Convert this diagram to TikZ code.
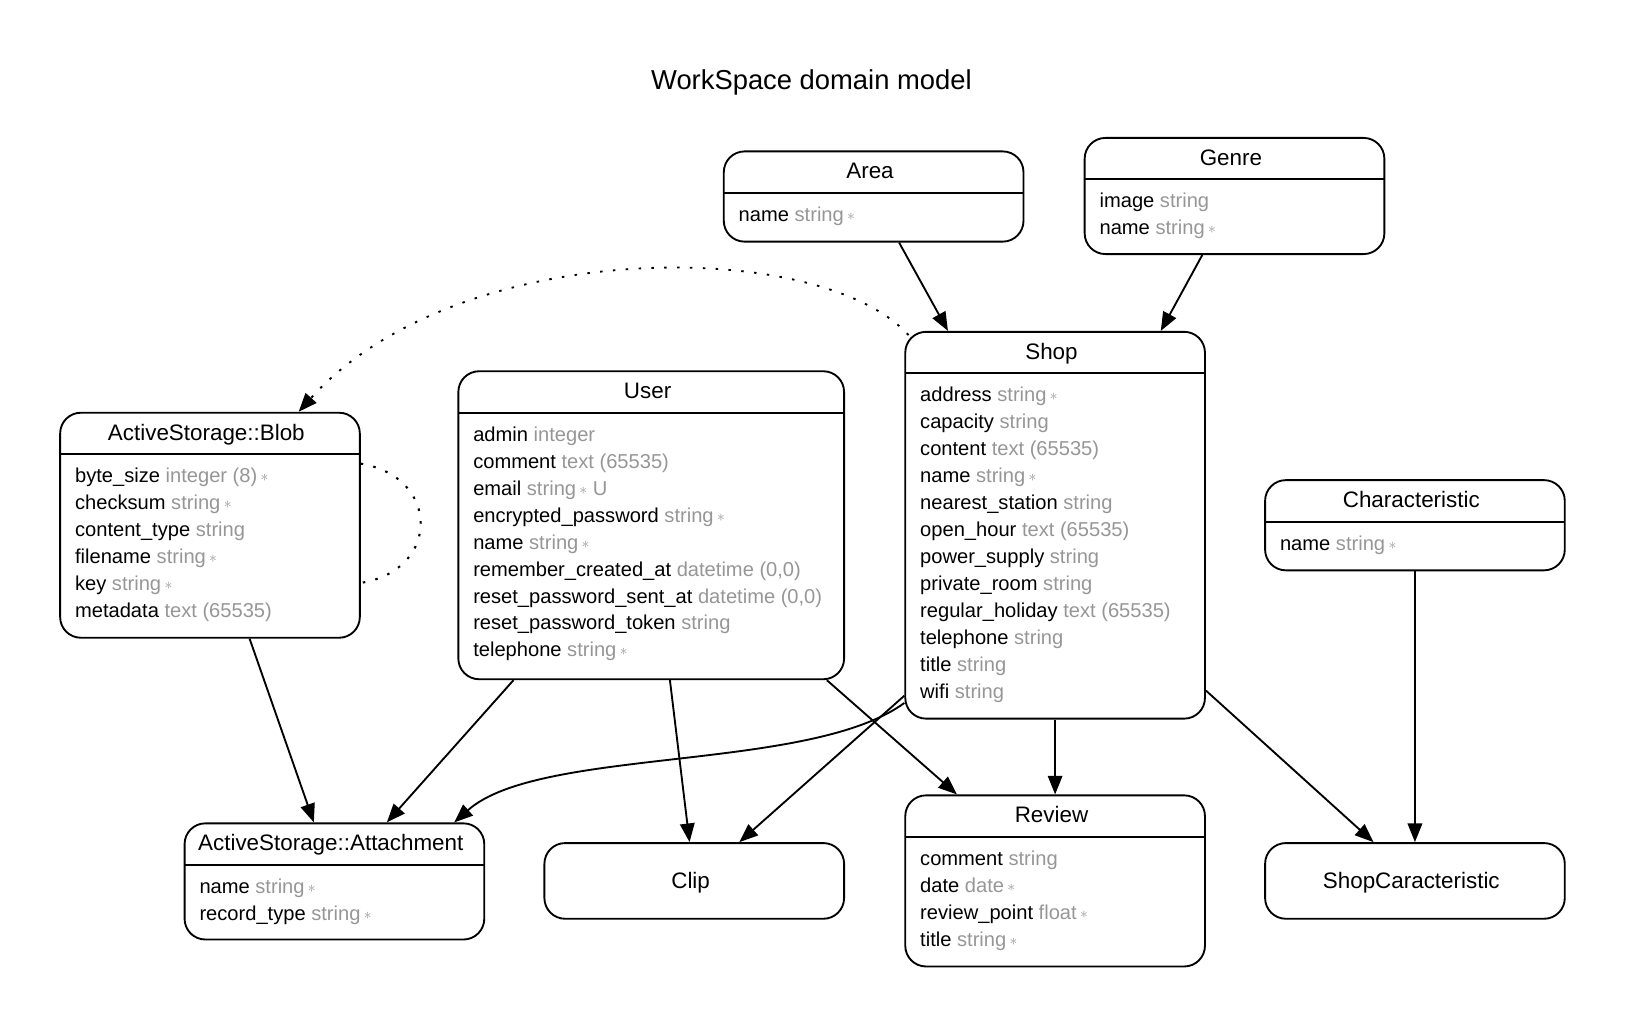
\documentclass[tikz,border=0pt]{standalone}
\usepackage{fontspec}
\setmainfont{Liberation Sans}
\usetikzlibrary{arrows.meta,fit}
\definecolor{typegray}{RGB}{150,150,150}
\newcommand{\req}{\,\raisebox{0.05em}{\scalebox{0.75}{$\ast$}}}
\newcount\attrno
\newcommand{\mkentity}[6]{% name,x1,y1,x2,y2,title
  \node[ebox, fit={(#2,#3) (#4,#5)}] (#1) {};
  \node[etitle] (#1-t) at ({(#2+#4)/2-3.5},{#3+26.5}) {#6};
  \draw[divider] (#2,{#3+40}) -- (#4,{#3+40});
  \gdef\curname{#1}\gdef\curx{#2}\gdef\cury{#3}\global\attrno=0 }
\newcommand{\mkplain}[6]{%
  \node[ebox, fit={(#2,#3) (#4,#5)}] (#1) {};
  \node[etitle] (#1-t) at ({(#2+#4)/2-3.5},{(#3+#5)/2+7.5}) {#6};}
\newcommand{\fld}[2]{\global\advance\attrno by 1
  \node[attr] (\curname-a\the\attrno) at ({\curx+14},{\cury+67.5+(\the\attrno-1)*26}) {#1 {\color{typegray}#2}};}
\begin{document}
\begin{tikzpicture}[x=0.5pt,y=-0.5pt,
  ebox/.style={draw, rounded corners=10pt, inner sep=0pt, line width=0.9pt},
  divider/.style={line width=0.9pt},
  etitle/.style={anchor=base, inner sep=0pt, font=\fontsize{10.8}{13}\selectfont},
  attr/.style={anchor=base west, inner sep=0pt, font=\fontsize{9.7}{13}\selectfont},
  arr/.style={line width=0.9pt, -{Triangle[length=9pt,width=7pt]}},
  dotline/.style={line width=1pt, dash pattern=on 1.2pt off 5pt}]
\useasboundingbox (0,0) rectangle (1569,992.3);
\node[anchor=base, inner sep=0pt, font=\fontsize{13.2}{16}\selectfont] (title) at (782.5,86) {WorkSpace domain model};

\mkentity{area}{698}{146}{987}{233}{Area}
\fld{name}{string\req}

\mkentity{genre}{1046}{133}{1335}{245}{Genre}
\fld{image}{string}
\fld{name}{string\req}

\mkentity{shop}{873}{320}{1162}{693}{Shop}
\fld{address}{string\req}
\fld{capacity}{string}
\fld{content}{text (65535)}
\fld{name}{string\req}
\fld{nearest\_station}{string}
\fld{open\_hour}{text (65535)}
\fld{power\_supply}{string}
\fld{private\_room}{string}
\fld{regular\_holiday}{text (65535)}
\fld{telephone}{string}
\fld{title}{string}
\fld{wifi}{string}

\mkentity{user}{442}{358}{814}{655}{User}
\fld{admin}{integer}
\fld{comment}{text (65535)}
\fld{email}{string\req{} U}
\fld{encrypted\_password}{string\req}
\fld{name}{string\req}
\fld{remember\_created\_at}{datetime (0,0)}
\fld{reset\_password\_sent\_at}{datetime (0,0)}
\fld{reset\_password\_token}{string}
\fld{telephone}{string\req}

\mkentity{blob}{58}{398}{347}{615}{ActiveStorage::Blob}
\fld{byte\_size}{integer (8)\req}
\fld{checksum}{string\req}
\fld{content\_type}{string}
\fld{filename}{string\req}
\fld{key}{string\req}
\fld{metadata}{text (65535)}

\mkentity{char}{1220}{463}{1509}{550}{Characteristic}
\fld{name}{string\req}

\mkentity{attach}{178}{794}{467}{906}{ActiveStorage::Attachment}
\fld{name}{string\req}
\fld{record\_type}{string\req}

\mkplain{clip}{525}{813}{814}{886}{Clip}

\mkentity{review}{873}{767}{1162}{932}{Review}
\fld{comment}{string}
\fld{date}{date\req}
\fld{review\_point}{float\req}
\fld{title}{string\req}

\mkplain{sc}{1220}{813}{1509}{886}{ShopCaracteristic}

% connectors
\draw[arr] (area) -- (shop);
\draw[arr] (genre) -- (shop);
\draw[arr] (user) -- (attach);
\draw[arr] (user) -- (clip);
\draw[arr] (user) -- (review);
\draw[arr] (blob) -- (attach);
\draw[arr] (shop) -- (review);
\draw[arr] (char) -- (sc);
\draw[arr] ([yshift=14pt]shop.south east) -- ([xshift=-20pt]sc.north);
\draw[arr] ([yshift=11.5pt]shop.south west) -- ([xshift=21.75pt]clip.north);
\draw[arr] ([yshift=8pt]shop.south west) .. controls (780,745) and (520,720) .. ([xshift=57.75pt]attach.north);
\draw[dotline,arr] ([xshift=2pt,yshift=-2pt]shop.north west) .. controls (790,228) and (440,228) .. ([xshift=42.75pt]blob.north);
\draw[dotline] ([yshift=-25pt]blob.north east) .. controls (425,460) and (425,550) .. ([yshift=-82.5pt]blob.north east);
\end{tikzpicture}
\end{document}
